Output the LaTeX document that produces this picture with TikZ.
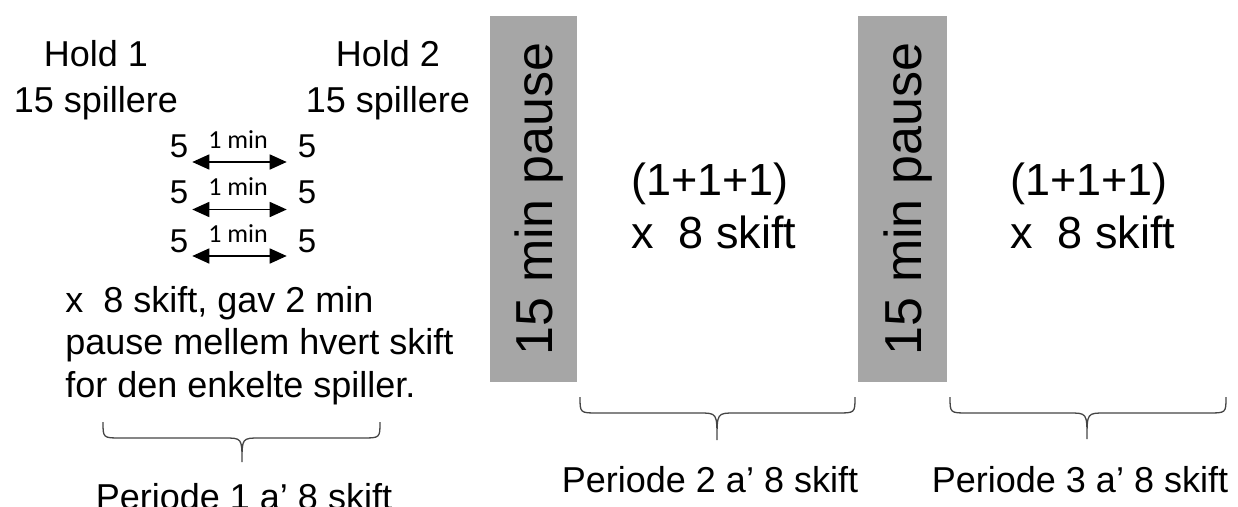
\documentclass[tikz,border=0pt]{standalone}
\usepackage{fontspec}
\setmainfont{Liberation Sans}
\newfontfamily\minfont{Carlito}
\usetikzlibrary{arrows.meta, positioning}
\definecolor{pausegray}{HTML}{A6A6A6}
\definecolor{bracegray}{HTML}{454545}

\begin{document}
\begin{tikzpicture}[
        x = 1pt, y = -1pt, % pixel coordinates, y downwards
        > = {Triangle[length=17pt, width=15pt]}, % arrow head style
        semithick % line style
    ]

    \tikzstyle{every node}=[inner sep = 0pt]
    \tikzstyle{holdtext}=[font = \fontsize{36}{46}\selectfont, align = center, anchor = base]
    \tikzstyle{paratext}=[font = \fontsize{36}{42.5}\selectfont, align = left, anchor = base west]
    \tikzstyle{shifttext}=[font = \fontsize{45}{53}\selectfont, align = left, anchor = base west]
    \tikzstyle{periodtext}=[font = \fontsize{36}{36}\selectfont, anchor = base]
    \tikzstyle{five}=[font = \fontsize{33}{33}\selectfont, anchor = base]
    \tikzstyle{minlabel}=[font = \minfont\fontsize{26}{26}\selectfont, midway, anchor = base, yshift = 14pt, xshift = -5pt]
    \tikzstyle{swap}=[<->, line width = 1.6pt, shorten < = 3.8pt, shorten > = 10.8pt]
    \tikzstyle{pausebox}=[
        fill = pausegray,
        rotate = 90,
        minimum width = 366pt,
        text height = 37pt,
        text depth = 0pt,
        font = \fontsize{52}{52}\selectfont
    ]
    \tikzstyle{bracestyle}=[draw = bracegray, line width = 1.3pt]

    \useasboundingbox (0,0) rectangle (1238,506);
    \clip (0,0) rectangle (1238,506);

    % teams (base = last line)
    \node[holdtext] (hold1) at (96,112.5) {Hold 1\\15 spillere};
    \node[holdtext] (hold2) at (388,112) {Hold 2\\15 spillere};

    % shifts of period 1
    \node[five] (l1) at (179,157) {5};
    \node[five] (r1) [right = 128pt of l1.base, anchor = base] {5};
    \node[five] (l2) [below = 46.5pt of l1.base, anchor = base] {5};
    \node[five] (r2) [right = 128pt of l2.base, anchor = base] {5};
    \node[five] (l3) [below = 95pt of l1.base, anchor = base] {5};
    \node[five] (r3) [right = 128pt of l3.base, anchor = base] {5};

    \draw[swap] ([yshift=-5pt]l1.base east) -- ([yshift=-5pt]r1.base west) node[minlabel] {1 min};
    \draw[swap] ([yshift=-6pt]l2.base east) -- ([yshift=-6pt]r2.base west) node[minlabel] {1 min};
    \draw[swap] ([yshift=-4pt]l3.base east) -- ([yshift=-4pt]r3.base west) node[minlabel] {1 min};

    \node[paratext] (rule1) at (65,397) {x~~8 skift, gav 2 min\\pause mellem hvert skift\\for den enkelte spiller.};

    % breaks
    \node[pausebox, minimum height = 87pt] (pause1) at (533.5,199) {15 min pause};
    \node[pausebox, minimum height = 89pt] (pause2) at (902.5,199) {15 min pause};

    \node[shifttext] (shift2) at (631,248) {(1+1+1)\\x~~8 skift};
    \node[shifttext] (shift3) at (1010,248) {(1+1+1)\\x~~8 skift};

    % braces under the periods
    \draw[bracestyle] (103,422) .. controls (103,438) .. (121,438) -- (224,438)
        .. controls (242,438) .. (242,462) .. controls (242,438) .. (260,438)
        -- (362,438) .. controls (380,438) .. (380,422);
    \draw[bracestyle] (580,397) .. controls (580,413) .. (598,413) -- (699,413)
        .. controls (717,413) .. (717,440) .. controls (717,413) .. (735,413)
        -- (837,413) .. controls (855,413) .. (855,397);
    \draw[bracestyle] (950,397) .. controls (950,413) .. (968,413) -- (1069,413)
        .. controls (1087,413) .. (1087,439) .. controls (1087,413) .. (1105,413)
        -- (1208,413) .. controls (1226,413) .. (1226,397);

    \node[periodtext] (per1) at (244,509) {Periode 1 a' 8 skift};
    \node[periodtext] (per2) at (710,492) {Periode 2 a' 8 skift};
    \node[periodtext] (per3) at (1080,492) {Periode 3 a' 8 skift};

\end{tikzpicture}
\end{document}
